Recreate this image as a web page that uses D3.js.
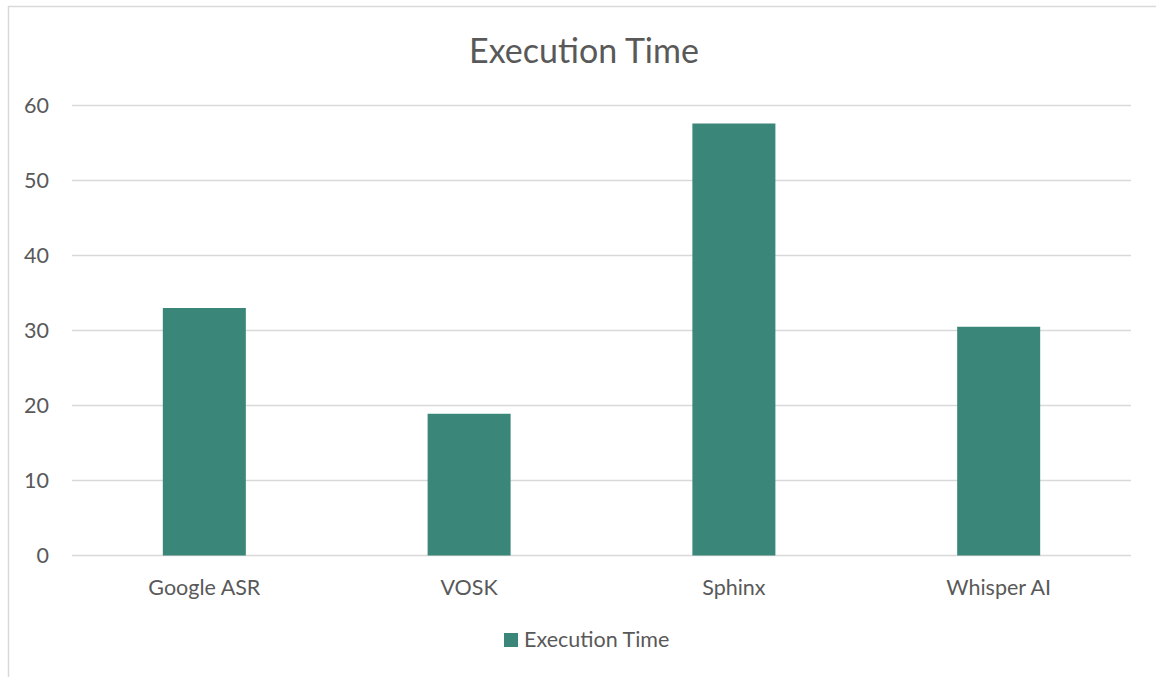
<!DOCTYPE html>
<html>
<head>
<meta charset="utf-8">
<script src="https://cdn.jsdelivr.net/npm/d3@7"></script>
<style>
  body { margin: 0; background: #fff; }
  text { font-family: Lato, "Open Sans", sans-serif; fill: #595959; }
</style>
</head>
<body>
<svg id="chart" width="1156" height="677"></svg>
<script>
// chart data
var categories = ['Google ASR', 'VOSK', 'Sphinx', 'Whisper AI'];
var executionTime = [33.0, 18.9, 57.6, 30.5];
var yTicks = [0, 10, 20, 30, 40, 50, 60];
var seriesName = 'Execution Time';

var svg = d3.select('#chart');
var margin = { left: 72, right: 25, top: 105.5, bottom: 121.5 };
var width = 1156 - margin.left - margin.right;
var height = 677 - margin.top - margin.bottom;

// outer chart border
svg.append('rect')
  .attr('x', 8.5).attr('y', 6.5)
  .attr('width', 1160).attr('height', 700)
  .attr('fill', 'none')
  .attr('stroke', '#d9d9d9')
  .attr('stroke-width', 1.5);

svg.append('text')
  .attr('x', 584).attr('y', 63)
  .attr('text-anchor', 'middle')
  .style('font-size', '34px')
  .text(seriesName);

var g = svg.append('g')
  .attr('transform', 'translate(' + margin.left + ',' + margin.top + ')');

var x = d3.scaleBand()
  .domain(categories)
  .range([0, width])
  .paddingInner(0.6865)
  .paddingOuter(0.343);

var y = d3.scaleLinear()
  .domain([0, 60])
  .range([height, 0]);

// gridlines
g.selectAll('line.grid')
  .data(yTicks)
  .enter().append('line')
  .attr('class', 'grid')
  .attr('x1', 0).attr('x2', width)
  .attr('y1', function(d) { return y(d); })
  .attr('y2', function(d) { return y(d); })
  .attr('stroke', '#d9d9d9')
  .attr('stroke-width', 1.5);

var yAxis = g.append('g')
  .call(d3.axisLeft(y).tickValues(yTicks).tickSize(0).tickPadding(23));
yAxis.select('.domain').remove();
yAxis.selectAll('text')
  .attr('text-anchor', 'end')
  .style('font-size', '21.5px')
  .style('font-family', 'Lato, "Open Sans", sans-serif')
  .attr('fill', '#595959');

var xAxis = g.append('g')
  .attr('transform', 'translate(0,' + height + ')')
  .call(d3.axisBottom(x).tickSize(0).tickPadding(24));
xAxis.select('.domain').remove();
xAxis.selectAll('text')
  .style('font-size', '21.5px')
  .style('font-family', 'Lato, "Open Sans", sans-serif')
  .attr('fill', '#595959');

g.selectAll('rect.bar')
  .data(executionTime)
  .enter().append('rect')
  .attr('class', 'bar')
  .attr('x', function(d, i) { return x(categories[i]); })
  .attr('y', function(d) { return y(d); })
  .attr('width', x.bandwidth())
  .attr('height', function(d) { return height - y(d); })
  .attr('fill', '#3a8679');

// legend
var legend = svg.append('g').attr('transform', 'translate(504,633)');
legend.append('rect')
  .attr('width', 14).attr('height', 14)
  .attr('fill', '#3a8679');
legend.append('text')
  .attr('x', 20).attr('y', 14)
  .style('font-size', '21.5px')
  .text(seriesName);
</script>
</body>
</html>
